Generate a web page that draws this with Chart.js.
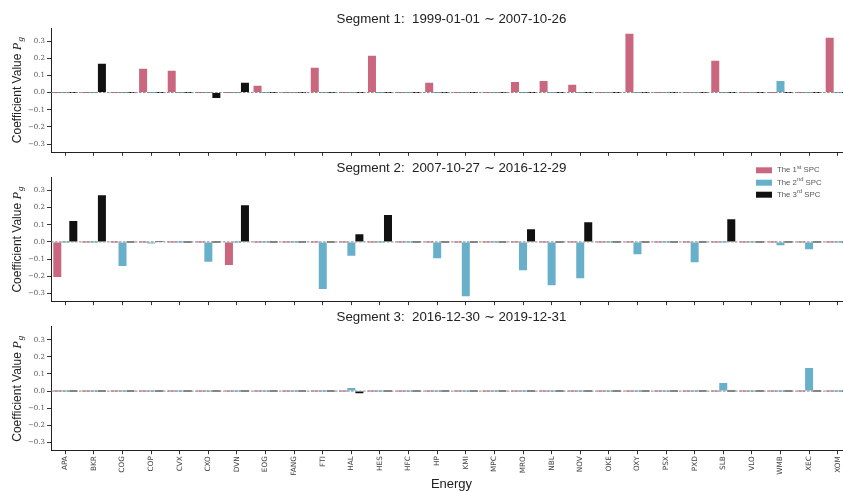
<!DOCTYPE html>
<html>
<head>
<meta charset="utf-8">
<script src="https://cdn.jsdelivr.net/npm/chart.js@4.4.1/dist/chart.umd.min.js"></script>
<style>
  html, body { margin: 0; padding: 0; background: #ffffff; }
  #fig { position: relative; width: 843px; height: 492px; overflow: hidden; background: #ffffff; }
  #fig canvas { position: absolute; left: 0; }
</style>
</head>
<body>
<div id="fig">
  <canvas id="seg1"></canvas>
  <canvas id="seg2"></canvas>
  <canvas id="seg3"></canvas>
</div>
<script>
// Energy-sector tickers (x categories)
const tickers = ['APA','BKR','COG','COP','CVX','CXO','DVN','EOG','FANG','FTI','HAL','HES','HFC','HP',
                 'KMI','MPC','MRO','NBL','NOV','OKE','OXY','PSX','PXD','SLB','VLO','WMB','XEC','XOM'];

// Segment titles
const segmentTitles = [
  'Segment 1:  1999-01-01 \u223C 2007-10-26',
  'Segment 2:  2007-10-27 \u223C 2016-12-29',
  'Segment 3:  2016-12-30 \u223C 2019-12-31'
];

// Sparse principal component loadings, segment 1
const seg1Spc1 = [0,0,0,0.138,0.127,0,0,0.039,0,0.144,0,0.214,0,0.057,0,0,0.062,0.068,0.045,0,0.343,0,0,0.185,0,0,0,0.319];
const seg1Spc2 = [0,0,0,0,0,0,0,0,0,0,0,0,0,0,0,0,0,0,0,0,0,0,0,0,0,0.068,0,0];
const seg1Spc3 = [0,0.168,0,0,0,-0.031,0.057,0,0,0,0,0,0,0,0,0,0,0,0,0,0,0,0,0,0,0,0,0];

// Segment 2
const seg2Spc1 = [-0.204,0,0,0,0,0,-0.134,0,0,0,0,0,0,0,0,0,0,0,0,0,0,0,0,0,0,0,0,0];
const seg2Spc2 = [0,0,-0.140,-0.010,0,-0.116,0,0,0,-0.274,-0.081,0,0,-0.095,-0.316,0,-0.165,-0.252,-0.211,0,-0.072,0,-0.118,0,0,-0.019,-0.043,0];
const seg2Spc3 = [0.121,0.272,0,0.004,0,0,0.214,0,0,0,0.045,0.156,0,0,0,0,0.074,0,0.115,0,0,0,0,0.132,0,0,0,0];

// Segment 3
const seg3Spc1 = [0,0,0,0,0,0,0,0,0,0,0,0,0,0,0,0,0,0,0,0,0,0,0,0,0,0,0,0];
const seg3Spc2 = [0,0,0,0,0,0,0,0,0,0,0.018,0,0,0,0,0,0,0,0,0,0,0,0,0.047,0,0,0.135,0];
const seg3Spc3 = [0,0,0,0,0,0,0,0,0,0,-0.012,0,0,0,0,0,0,0,0,0,0,0,0,0,0,0,0,0];

// Y-axis tick values and legend ordinals
const yTicks = [-0.3, -0.2, -0.1, 0.0, 0.1, 0.2, 0.3];
const spcOrdinals = [['1', 'st'], ['2', 'nd'], ['3', 'rd']];

const COLORS = ['#c9677f', '#68b0ca', '#111111'];
const SANS = '"Liberation Sans", Arial, sans-serif';
const SERIF = '"DejaVu Serif", serif';
const CANVAS_W = 903;     // wide canvas, clipped by #fig so the axes run off the right edge
const AXIS_LEFT = 51;

Chart.defaults.font.family = SANS;
Chart.defaults.animation = false;

// dashed reference line at y = 0
const zeroLine = {
  id: 'zeroLine',
  afterDatasetsDraw(chart) {
    const {ctx, chartArea} = chart;
    const y = chart.scales.y.getPixelForValue(0);
    ctx.save();
    ctx.strokeStyle = 'rgba(130,130,130,0.95)';
    ctx.lineWidth = 1;
    ctx.setLineDash([2.5, 1.5]);
    ctx.beginPath();
    ctx.moveTo(chartArea.left, y);
    ctx.lineTo(chartArea.right, y);
    ctx.stroke();
    ctx.restore();
  }
};

// rotated y-axis title with math-style P_g
const yTitle = {
  id: 'yTitle',
  afterDraw(chart) {
    const {ctx, chartArea} = chart;
    const cy = (chartArea.top + chartArea.bottom) / 2;
    const main = 'Coefficient Value ';
    const fMain = '12px ' + SANS;
    const fP = 'italic 12.5px "Liberation Serif", serif';
    const fSub = 'italic 9px "Liberation Serif", serif';
    ctx.save();
    ctx.translate(18, cy);
    ctx.rotate(-Math.PI / 2);
    ctx.textBaseline = 'middle';
    ctx.fillStyle = '#222222';
    ctx.font = fMain; const w1 = ctx.measureText(main).width;
    ctx.font = fP;    const w2 = ctx.measureText('P').width;
    ctx.font = fSub;  const w3 = ctx.measureText('g').width;
    let x = -(w1 + w2 + w3 + 1) / 2;
    ctx.textAlign = 'left';
    ctx.font = fMain; ctx.fillText(main, x, 0); x += w1;
    ctx.font = fP;    ctx.fillText('P', x, 0); x += w2 + 1;
    ctx.font = fSub;  ctx.fillText('g', x, 3);
    ctx.restore();
  }
};

// legend drawn inside the plot area (top right)
const spcLegend = {
  id: 'spcLegend',
  afterDraw(chart) {
    if (!chart.options.plugins.spcLegend || !chart.options.plugins.spcLegend.show) return;
    const {ctx} = chart;
    const rowsY = [10.3, 22.7, 34.7];
    ctx.save();
    ctx.textBaseline = 'middle';
    ctx.textAlign = 'left';
    chart.data.datasets.forEach((ds, i) => {
      const y = rowsY[i];
      ctx.fillStyle = ds.backgroundColor;
      ctx.fillRect(756, y - 3, 16, 6);
      ctx.fillStyle = '#555555';
      let x = 777;
      const [num, suf] = spcOrdinals[i];
      ctx.font = '7.8px ' + SANS;
      const a = 'The ' + num;
      ctx.fillText(a, x, y); x += ctx.measureText(a).width;
      ctx.font = '5.8px ' + SANS;
      ctx.fillText(suf, x, y - 3); x += ctx.measureText(suf).width;
      ctx.font = '7.8px ' + SANS;
      ctx.fillText(' SPC', x, y);
    });
    ctx.restore();
  }
};

function makePanel(id, top, height, title, series, cfg) {
  const canvas = document.getElementById(id);
  canvas.width = CANVAS_W;
  canvas.height = height;
  canvas.style.width = CANVAS_W + 'px';
  canvas.style.height = height + 'px';
  canvas.style.top = top + 'px';

  return new Chart(canvas, {
    type: 'bar',
    data: {
      labels: tickers,
      datasets: series.map((vals, i) => ({
        label: 'The ' + spcOrdinals[i].join('') + ' SPC',
        data: vals,
        backgroundColor: COLORS[i],
        borderWidth: 0,
        minBarLength: 1,
        categoryPercentage: 0.84,
        barPercentage: 1.0
      }))
    },
    options: {
      responsive: false,
      devicePixelRatio: 1,
      layout: { padding: { left: 0, right: CANVAS_W - 852, top: 0, bottom: 0 } },
      plugins: {
        legend: { display: false },
        tooltip: { enabled: false },
        spcLegend: { show: !!cfg.legend },
        title: {
          display: true,
          fullSize: false,
          text: title,
          color: '#222222',
          font: { family: SANS, size: 13.3, weight: 'normal' },
          padding: { top: cfg.titleTop, bottom: cfg.titleBottom }
        }
      },
      scales: {
        x: {
          offset: true,
          border: { display: true, color: '#222222', width: 1 },
          grid: { display: true, drawOnChartArea: false, offset: false, tickLength: 3.5, color: '#333333' },
          ticks: {
            display: !!cfg.labels,
            autoSkip: false,
            minRotation: 90,
            maxRotation: 90,
            padding: 2,
            color: '#444444',
            font: { family: '"DejaVu Sans", sans-serif', size: 7.3 }
          },
          title: {
            display: !!cfg.labels,
            text: 'Energy',
            color: '#222222',
            font: { family: SANS, size: 13 },
            padding: { top: 0, bottom: 0 }
          },
          afterFit(scale) { scale.height = cfg.xHeight; }
        },
        y: {
          min: -0.348,
          max: 0.376,
          border: { display: true, color: '#222222', width: 1 },
          grid: { display: true, drawOnChartArea: false, tickLength: 4, color: '#333333' },
          afterBuildTicks(scale) { scale.ticks = yTicks.map(v => ({ value: v })); },
          ticks: {
            padding: 2,
            color: '#555555',
            font: { family: SERIF, size: 7 },
            callback: v => (v < 0 ? '\u2212' : '') + Math.abs(v).toFixed(1)
          },
          afterFit(scale) { scale.width = AXIS_LEFT; }
        }
      }
    },
    plugins: [zeroLine, yTitle, spcLegend]
  });
}

makePanel('seg1', 0, 160, segmentTitles[0], [seg1Spc1, seg1Spc2, seg1Spc3],
  { titleTop: 11.5, titleBottom: 0.54, xHeight: 7.7 });
makePanel('seg2', 160, 150, segmentTitles[1], [seg2Spc1, seg2Spc2, seg2Spc3],
  { titleTop: 0.32, titleBottom: 1.02, xHeight: 8.3, legend: true });
makePanel('seg3', 309, 183, segmentTitles[2], [seg3Spc1, seg3Spc2, seg3Spc3],
  { titleTop: 0.32, titleBottom: 1.42, xHeight: 41.3, labels: true });
</script>
</body>
</html>
